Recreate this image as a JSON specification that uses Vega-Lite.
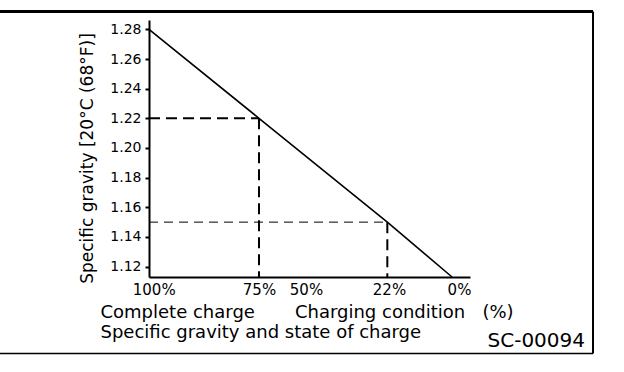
{
  "$schema": "https://vega.github.io/schema/vega-lite/v6.json",
  "width": 321,
  "height": 257,
  "autosize": {"type": "none"},
  "padding": {"left": 149, "top": 20, "right": 154, "bottom": 95},
  "background": "white",
  "config": {
    "view": {"stroke": null},
    "font": "DejaVu Sans",
    "axis": {"grid": false, "domainColor": "black", "domainWidth": 2, "tickColor": "black", "labelColor": "black", "titleColor": "black", "labelFont": "DejaVu Sans", "titleFont": "DejaVu Sans", "titleFontWeight": "normal", "labelOverlap": false, "labelFlush": false},
    "axisX": {
      "ticks": false, "tickSize": 0,
      "labelFontSize": 15, "labelBaseline": "alphabetic", "labelPadding": 17, "labelAlign": "center",
      "titleFontSize": 18, "titleAlign": "left", "titleBaseline": "alphabetic", "titleX": -49, "titleY": 40, "titleLineHeight": 20
    },
    "axisY": {
      "tickSize": 4, "tickWidth": 2,
      "labelFontSize": 14, "labelPadding": 4, "labelBaseline": "middle",
      "titleFontSize": 17, "titleAngle": 270, "titleAlign": "center", "titleBaseline": "alphabetic", "titleX": -56.5, "titleY": 138
    }
  },
  "title": {
    "text": "SC-00094",
    "orient": "bottom",
    "anchor": "end",
    "frame": "group",
    "font": "DejaVu Sans",
    "fontSize": 20,
    "fontWeight": "normal",
    "color": "black",
    "baseline": "alphabetic",
    "offset": 0,
    "dx": 115,
    "dy": -8
  },
  "encoding": {
    "x": {
      "type": "quantitative",
      "scale": {"domain": [1.1049, 1.28], "reverse": true, "nice": false, "zero": false},
      "axis": {
        "values": [1.27744, 1.22, 1.19436, 1.14909, 1.1109],
        "labelExpr": "datum.value > 1.25 ? '100%' : datum.value > 1.21 ? '75%' : datum.value > 1.17 ? '50%' : datum.value > 1.13 ? '22%' : '0%'",
        "title": ["Complete charge\u00a0\u00a0\u00a0\u00a0\u00a0\u00a0\u00a0Charging condition\u00a0\u00a0\u00a0(%)", "Specific gravity and state of charge"]
      }
    },
    "y": {
      "type": "quantitative",
      "scale": {"domain": [1.113, 1.2863], "nice": false, "zero": false},
      "axis": {
        "values": [1.12, 1.14, 1.16, 1.18, 1.2, 1.22, 1.24, 1.26, 1.28],
        "format": ".2f",
        "title": "Specific gravity [20°C (68°F)]"
      }
    }
  },
  "layer": [
    {
      "data": {"values": [
        {"sg": 1.28, "gravity": 1.28},
        {"sg": 1.22, "gravity": 1.22},
        {"sg": 1.15, "gravity": 1.15},
        {"sg": 1.1147, "gravity": 1.113}
      ]},
      "mark": {"type": "line", "color": "black", "strokeWidth": 1.6},
      "encoding": {
        "x": {"field": "sg"},
        "y": {"field": "gravity"}
      }
    },
    {
      "data": {"values": [
        {"x": 1.28, "x2": 1.22, "y": 1.22, "y2": 1.22},
        {"x": 1.22, "x2": 1.22, "y": 1.22, "y2": 1.113},
        {"x": 1.15, "x2": 1.15, "y": 1.15, "y2": 1.113}
      ]},
      "mark": {"type": "rule", "color": "black", "strokeWidth": 2, "strokeDash": [11, 6]},
      "encoding": {
        "x": {"field": "x"},
        "x2": {"field": "x2"},
        "y": {"field": "y"},
        "y2": {"field": "y2"}
      }
    },
    {
      "data": {"values": [
        {"x": 1.28, "x2": 1.15, "y": 1.15, "y2": 1.15}
      ]},
      "mark": {"type": "rule", "color": "black", "strokeWidth": 1, "strokeDash": [9, 6]},
      "encoding": {
        "x": {"field": "x"},
        "x2": {"field": "x2"},
        "y": {"field": "y"},
        "y2": {"field": "y2"}
      }
    },
    {
      "data": {"values": [
        {"x": 1.364, "x2": 1.0378, "y": 1.292, "y2": 1.292}
      ]},
      "mark": {"type": "rule", "color": "black", "strokeWidth": 3},
      "encoding": {
        "x": {"field": "x"},
        "x2": {"field": "x2"},
        "y": {"field": "y"},
        "y2": {"field": "y2"}
      }
    },
    {
      "data": {"values": [
        {"x": 1.364, "x2": 1.0378, "y": 1.0614, "y2": 1.0614}
      ]},
      "mark": {"type": "rule", "color": "black", "strokeWidth": 1.5},
      "encoding": {
        "x": {"field": "x"},
        "x2": {"field": "x2"},
        "y": {"field": "y"},
        "y2": {"field": "y2"}
      }
    },
    {
      "data": {"values": [
        {"x": 1.0378, "x2": 1.0378, "y": 1.292, "y2": 1.0614}
      ]},
      "mark": {"type": "rule", "color": "black", "strokeWidth": 2},
      "encoding": {
        "x": {"field": "x"},
        "x2": {"field": "x2"},
        "y": {"field": "y"},
        "y2": {"field": "y2"}
      }
    }
  ]
}
